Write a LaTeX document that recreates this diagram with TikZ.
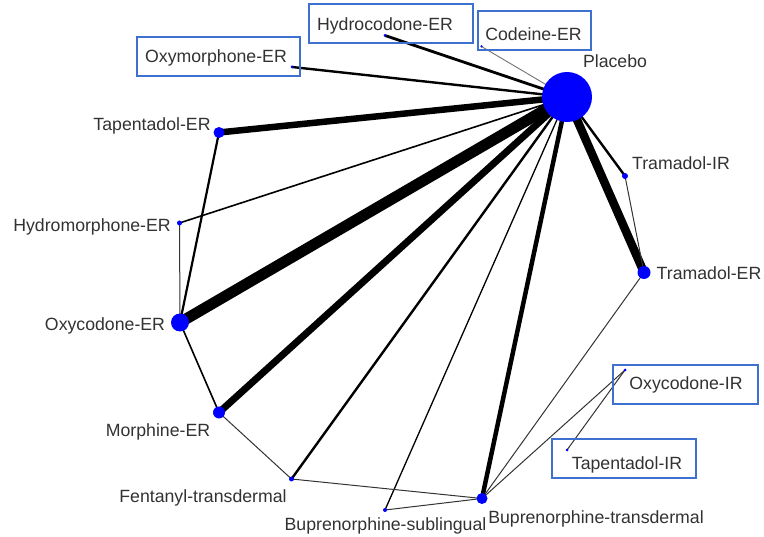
\documentclass[tikz,border=0pt]{standalone}
\usepackage{fontspec}
\setmainfont{Liberation Sans}
\usetikzlibrary{backgrounds}
\definecolor{netblue}{RGB}{0,0,255}
\definecolor{boxblue}{RGB}{62,112,208}
\definecolor{labelgray}{RGB}{50,50,50}
\begin{document}
\begin{tikzpicture}[x=1pt,y=-1pt,
  drug/.style={circle,fill=netblue,inner sep=0pt,minimum size=#1},
  lab/.style={font=\fontsize{17.7}{20}\selectfont,text=labelgray,inner sep=0pt,anchor=base},
  hl/.style={draw=boxblue,line width=2.8pt,inner sep=0pt,rectangle},
  edge/.style={line width=#1,draw=black},
  faint/.style={line width=1pt,draw=black!80},
]
\useasboundingbox (0,0) rectangle (764,537);

% treatments (node size ~ number of patients)
\node[drug=50pt] (plc)   at (567,97)    {};
\node[drug=3pt]  (hyc)   at (385,35.5)  {};
\node[drug=2.5pt](cod)   at (481.5,46.5){};
\node[drug=3pt]  (oxm)   at (292,67)    {};
\node[drug=11pt] (tapER) at (219,132.5) {};
\node[drug=5pt]  (hym)   at (179.5,223) {};
\node[drug=18pt] (oxyER) at (180,322.5) {};
\node[drug=12pt] (morER) at (219,412.5) {};
\node[drug=5pt]  (fen)   at (291.5,479) {};
\node[drug=4pt]  (bsl)   at (385,510)   {};
\node[drug=11pt] (btd)   at (482,498.5) {};
\node[drug=3pt]  (tapIR) at (567,450)   {};
\node[drug=3pt]  (oxyIR) at (625,370)   {};
\node[drug=13pt] (traER) at (644,272.5) {};
\node[drug=6pt]  (traIR) at (625,176)   {};

% comparisons (line width ~ number of trials)
\begin{scope}[on background layer]
  \draw[edge=2.8pt] (plc.center) -- (hyc.center);
  \draw[line width=0.9pt,draw=black!55] (plc.center) -- (cod.center);
  \draw[edge=2.4pt] (plc.center) -- (oxm.center);
  \draw[edge=6.5pt] (plc.center) -- (tapER.center);
  \draw[edge=1.6pt] (plc.center) -- (hym.center);
  \draw[edge=11pt]  (plc.center) -- (oxyER.center);
  \draw[edge=7pt]   (plc.center) -- (morER.center);
  \draw[edge=2.4pt] (plc.center) -- (fen.center);
  \draw[edge=1.3pt] (plc.center) -- (bsl.center);
  \draw[edge=4.5pt] (plc.center) -- (btd.center);
  \draw[edge=8.5pt] (plc.center) -- (traER.center);
  \draw[edge=2.4pt] (plc.center) -- (traIR.center);
  \draw[edge=2.2pt] (tapER.center) -- (oxyER.center);
  \draw[faint] (hym.center) -- (oxyER.center);
  \draw[edge=1.6pt] (oxyER.center) -- (morER.center);
  \draw[faint] (morER.center) -- (fen.center);
  \draw[faint] (fen.center) -- (btd.center);
  \draw[faint] (bsl.center) -- (btd.center);
  \draw[faint] (traIR.center) -- (traER.center);
  \draw[faint] (traER.center) -- (btd.center);
  \draw[faint] (btd.center) -- (oxyIR.center);
  \draw[faint] (tapIR.center) -- (oxyIR.center);
\end{scope}

% labels
\node[lab] (l-plc)   at (615,67.5)  {Placebo};
\node[lab] (l-hyc)   at (385,30.5)  {Hydrocodone-ER};
\node[lab] (l-cod)   at (533.5,40.5){Codeine-ER};
\node[lab] (l-oxm)   at (216,62.5)  {Oxymorphone-ER};
\node[lab] (l-tapER) at (152,130.5) {Tapentadol-ER};
\node[lab] (l-hym)   at (92,231.5)  {Hydromorphone-ER};
\node[lab] (l-oxyER) at (105,330.5) {Oxycodone-ER};
\node[lab] (l-morER) at (158,436.5) {Morphine-ER};
\node[lab] (l-fen)   at (203,502.5) {Fentanyl-transdermal};
\node[lab] (l-bsl)   at (385.5,530.5){Buprenorphine-sublingual};
\node[lab] (l-btd)   at (596,523.5) {Buprenorphine-transdermal};
\node[lab] (l-tapIR) at (627,469.5) {Tapentadol-IR};
\node[lab] (l-oxyIR) at (686,389.5) {Oxycodone-IR};
\node[lab] (l-traER) at (709,279.5) {Tramadol-ER};
\node[lab] (l-traIR) at (681,169.5) {Tramadol-IR};

% highlight frames
\node[hl,minimum width=164pt,minimum height=39pt] (f-hyc)   at (391,23.5)  {};
\node[hl,minimum width=113pt,minimum height=39pt] (f-cod)   at (534.5,30.5){};
\node[hl,minimum width=163pt,minimum height=39pt] (f-oxm)   at (218.5,56.5){};
\node[hl,minimum width=145pt,minimum height=39pt] (f-oxyIR) at (685.5,384.5){};
\node[hl,minimum width=144pt,minimum height=39pt] (f-tapIR) at (624,458.5) {};
\end{tikzpicture}
\end{document}
